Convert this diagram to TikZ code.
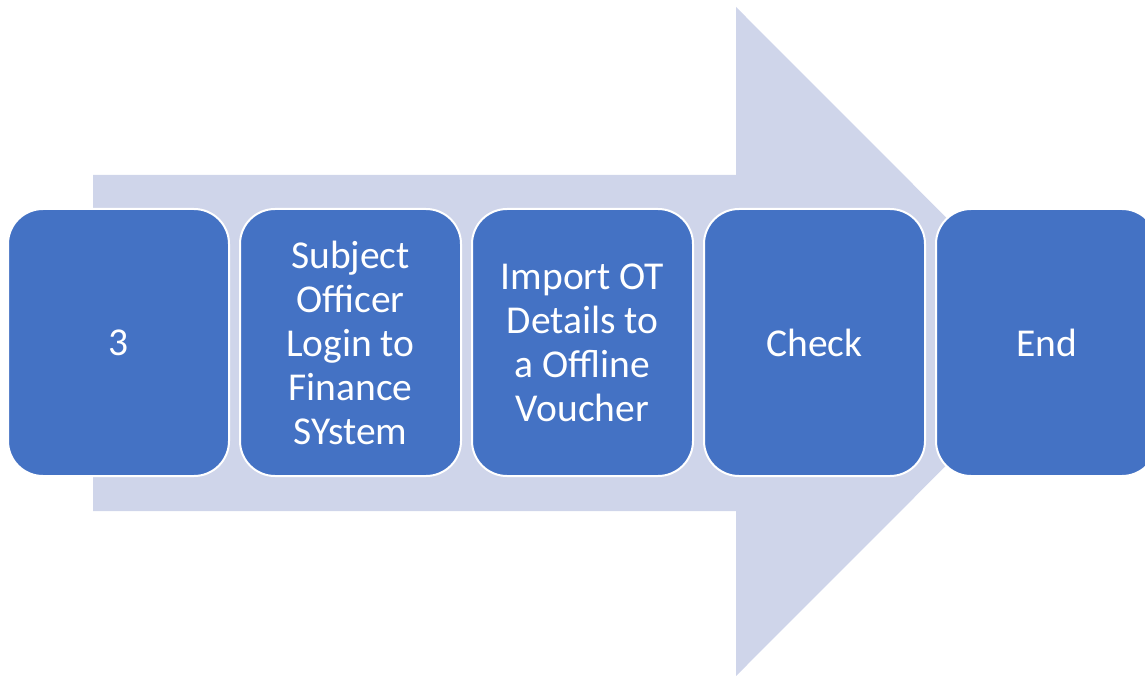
\documentclass[tikz,border=0pt]{standalone}
\usepackage{fontspec}
\setmainfont{Carlito}

\definecolor{stepblue}{HTML}{4472C4}
\definecolor{arrowgrey}{HTML}{CFD5EA}

\begin{document}
\begin{tikzpicture}[x=1pt,y=-1pt,
	stepbox/.style={draw=white, line width=2pt, fill=stepblue, text=white,
		rounded corners=35pt, minimum width=221pt, minimum height=267pt,
		align=center, inner sep=0pt,
		font=\fontsize{39.5}{44}\selectfont}]

	\useasboundingbox (0,0) rectangle (1145,676);
	\clip (0,0) rectangle (1145,676);

	% Big arrow behind the steps
	\fill [arrowgrey] (93,175) -- (736,175) -- (736,7) -- (1070,341.5)
		-- (736,676) -- (736,511) -- (93,511) -- cycle;

	% Steps
	\node [stepbox] (start) at (118.5,342.5) {3};
	\node [stepbox] (login) at (350.5,342.5) {Subject\\Officer\\Login to\\Finance\\SYstem};
	\node [stepbox] (import) at (582.5,342.5) {Import OT\\Details to\\a Offline\\Voucher};
	\node [stepbox] (check) at (814.5,342.5) {Check};
	\node [stepbox] (end) at (1046.5,342.5) {End};

\end{tikzpicture}
\end{document}
